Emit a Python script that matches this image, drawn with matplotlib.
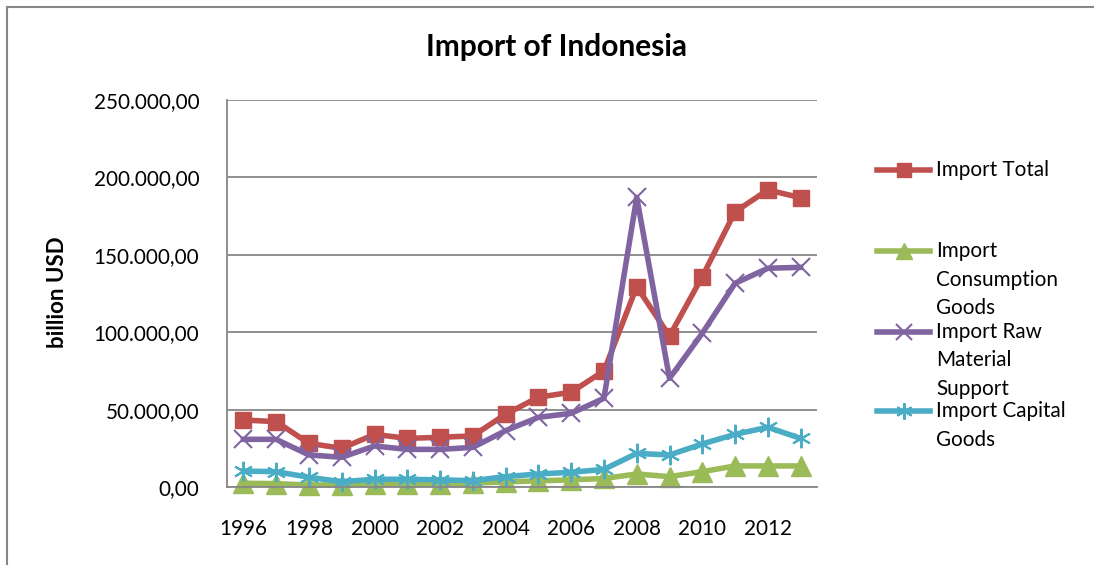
import matplotlib.pyplot as plt
from matplotlib.lines import Line2D
from matplotlib.ticker import FuncFormatter

plt.rcParams['font.family'] = ['Lato', 'DejaVu Sans']

years = list(range(1996, 2014))
import_total = [43300, 42200, 28200, 25000, 34000, 31400, 32100, 33000, 47000,
                58000, 61200, 75000, 129400, 97500, 135900, 177800, 191900, 186900]
consumption = [2400, 2200, 1200, 1500, 2000, 2000, 2200, 2500, 3300,
               4000, 4600, 5500, 8400, 6700, 9900, 13600, 13600, 13600]
raw_material = [30800, 30800, 20700, 19200, 26500, 24300, 24300, 25600, 36400,
                45000, 47600, 57300, 187100, 70200, 99300, 131600, 141300, 141900]
capital = [10300, 9900, 6300, 3400, 5000, 5000, 4600, 4100, 6700,
           8400, 9500, 11400, 21700, 20700, 27800, 34000, 38600, 31400]

series = [
    (import_total, ['Import Total'],
     dict(color='#c0504d', marker='s', ms=12)),
    (consumption, ['Import', 'Consumption', 'Goods'],
     dict(color='#9bbb59', marker='^', ms=14)),
    (raw_material, ['Import Raw', 'Material', 'Support'],
     dict(color='#8064a2', marker='x', ms=13, mew=1.5)),
    (capital, ['Import Capital', 'Goods'],
     dict(color='#4bacc6', marker=(6, 2, 0), ms=14, mew=1.5)),
]

W, H = 1094, 565
fig = plt.figure(figsize=(W / 100, H / 100), dpi=100)
ax = fig.add_axes([227 / W, 1 - 487 / H, 590 / W, 387 / H])

x = list(range(len(years)))
for values, lines, style in series:
    ax.plot(x, values, lw=4, label=' '.join(lines), clip_on=False, **style)

ax.set_xlim(-0.5, len(years) - 0.5)
ax.set_ylim(0, 250000)
ax.set_yticks(range(0, 250001, 50000))
ax.yaxis.set_major_formatter(FuncFormatter(
    lambda v, p: f'{v:,.2f}'.replace(',', ' ').replace('.', ',').replace(' ', '.')))
ax.set_xticks(x[::2])
ax.set_xticklabels([str(y) for y in years[::2]])
ax.tick_params(axis='both', labelsize=14.9, length=0)
ax.tick_params(axis='x', pad=23)
ax.tick_params(axis='y', pad=20)
ax.grid(axis='y', color='#878787', lw=1.3)
ax.set_axisbelow(True)
for side in ['top', 'right']:
    ax.spines[side].set_visible(False)
for side in ['left', 'bottom']:
    ax.spines[side].set_color('#878787')
    ax.spines[side].set_linewidth(1.3)

fig.text(58 / W, 1 - 292 / H, 'billion USD', fontsize=16, fontweight='bold',
         rotation=90, ha='center', va='center')
fig.text(556 / W, 1 - 47 / H, 'Import of Indonesia', fontsize=21.5,
         fontweight='bold', ha='center', va='center')

# legend: handle sits level with the first text row of each entry
legend_rows = [[170], [251, 280, 308], [332, 360, 389], [411, 440]]
for (values, lines, style), rows in zip(series, legend_rows):
    yh = 1 - rows[0] / H
    fig.add_artist(Line2D([877 / W, 930 / W], [yh, yh], lw=4,
                          **dict(style, marker=None)))
    fig.add_artist(Line2D([903.5 / W], [yh], lw=0,
                          **dict(style, ms=style['ms'] * 0.85)))
    for text, yr in zip(lines, rows):
        fig.text(936 / W, 1 - yr / H, text, fontsize=14.9, ha='left', va='center')

# outer chart frame (left and top edges only)
fig.add_artist(Line2D([7 / W, 7 / W], [0, 1 - 7 / H], color='#878787', lw=1.5))
fig.add_artist(Line2D([7 / W, 1], [1 - 7 / H, 1 - 7 / H], color='#878787', lw=1.5))

fig.savefig('out.png', dpi=100)
